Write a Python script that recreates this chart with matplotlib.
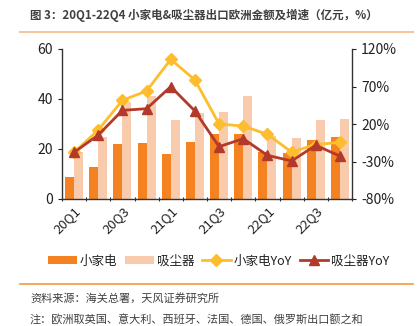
import matplotlib
matplotlib.use("Agg")
import matplotlib.pyplot as plt
from matplotlib.lines import Line2D
import numpy as np

plt.rcParams['font.family'] = ['Noto Sans CJK SC', 'DejaVu Sans']

quarters = ["20Q1", "20Q2", "20Q3", "20Q4", "21Q1", "21Q2", "21Q3", "21Q4",
            "22Q1", "22Q2", "22Q3", "22Q4"]
appliance = [8.8, 12.9, 22.0, 22.3, 18.0, 22.8, 26.1, 26.1, 18.9, 18.5, 23.7, 24.8]
vacuum = [18.7, 24.9, 38.8, 41.2, 31.7, 34.5, 34.9, 41.2, 25.2, 24.5, 31.6, 32.0]
appliance_yoy = [-17.8, 12.0, 51.6, 64.0, 106.2, 78.7, 20.0, 17.3, 6.2, -17.3, -7.5, -4.4]
vacuum_yoy = [-17.8, 5.3, 38.2, 40.4, 69.8, 37.3, -10.2, 0.4, -21.8, -29.3, -8.4, -22.7]

C_DARK = "#F58220"
C_LIGHT = "#F8CBAD"
C_YEL = "#FDBD2C"
C_RED = "#B3392A"
TXT = "#222222"

fig = plt.figure(figsize=(4.19, 3.26), dpi=100)
ax = fig.add_axes([62/419, 1-199/326, 290/419, 150/326])
ax2 = ax.twinx()

x = np.arange(len(quarters))
w = 0.37
ax.bar(x - w/2, appliance, width=w, color=C_DARK, label="小家电", zorder=2)
ax.bar(x + w/2, vacuum, width=w, color=C_LIGHT, label="吸尘器", zorder=2)
ax.set_ylim(0, 60)
ax.set_yticks([0, 20, 40, 60])
ax.set_xlim(-0.5, len(quarters) - 0.5)
ax.set_xticks(np.arange(-0.5, len(quarters), 1.0))
ax.set_xticklabels([])
ax.set_xticks(x[::2], minor=True)
ax.set_xticklabels(quarters[::2], minor=True, rotation=45, ha='right',
                   rotation_mode='anchor', fontsize=9.5, color=TXT)
ax.tick_params(axis='x', which='minor', length=0, pad=4)
ax.tick_params(axis='x', which='major', length=3, direction='inout', color='#333333')
ax.tick_params(axis='y', length=3, direction='out', labelsize=10, colors=TXT)

ax2.plot(x, appliance_yoy, color=C_YEL, lw=2, marker='D', ms=6, label="小家电YoY", zorder=3)
ax2.plot(x, vacuum_yoy, color=C_RED, lw=2, marker='^', ms=7.5, label="吸尘器YoY", zorder=4)
ax2.set_ylim(-80, 120)
ax2.set_yticks([-80, -30, 20, 70, 120])
ax2.set_yticklabels([f"{v}%" for v in [-80, -30, 20, 70, 120]])
ax2.tick_params(axis='y', length=3, direction='out', labelsize=10, colors=TXT)

for a in (ax, ax2):
    a.spines['top'].set_visible(False)
    for s in ('left', 'right', 'bottom'):
        a.spines[s].set_color('#333333')
        a.spines[s].set_linewidth(1)
ax.spines['right'].set_visible(False)
ax2.spines['left'].set_visible(False)
ax2.spines['bottom'].set_visible(False)
ax.set_zorder(ax2.get_zorder() - 1)
ax.patch.set_visible(False)
ax2.patch.set_visible(False)

h1, l1 = ax.get_legend_handles_labels()
h2, l2 = ax2.get_legend_handles_labels()
fig.legend(h1 + h2, l1 + l2, loc='center', bbox_to_anchor=(219/419, 1-261/326),
           ncol=4, frameon=False, fontsize=9, handlelength=2.3, handleheight=0.55,
           columnspacing=0.6, handletextpad=0.25, labelcolor=TXT, borderpad=0)

fig.text(30/419, 1-15/326, "图 3：20Q1-22Q4 小家电&吸尘器出口欧洲金额及增速（亿元，%）",
         fontsize=8.3, color="#404040", fontweight='bold', va='center', ha='left')
fig.add_artist(Line2D([20/419, 413/419], [1-32/326, 1-32/326], color="#F9C79B", lw=1.5))
fig.add_artist(Line2D([20/419, 413/419], [1-284/326, 1-284/326], color="#F39A3E", lw=1.2))
fig.text(30/419, 1-298/326, "资料来源：海关总署，天风证券研究所", fontsize=8,
         color="#404040", va='center', ha='left')
fig.text(30/419, 1-319/326, "注：欧洲取英国、意大利、西班牙、法国、德国、俄罗斯出口额之和", fontsize=8,
         color="#404040", va='center', ha='left')

fig.savefig("out.png", dpi=100)
